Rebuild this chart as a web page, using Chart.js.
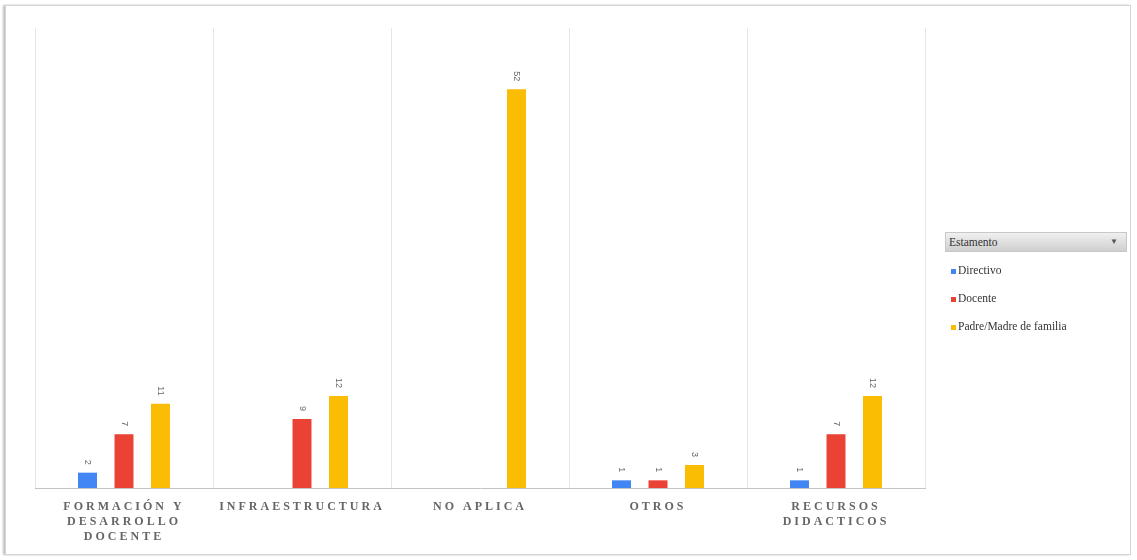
<!DOCTYPE html>
<html lang="es">
<head>
<meta charset="UTF-8">
<title>Estamento</title>
<script src="https://cdn.jsdelivr.net/npm/chart.js@4.4.1/dist/chart.umd.min.js"></script>
<style>
    html, body { margin: 0; padding: 0; background: #fff; }
    .frame {
        position: absolute;
        left: 5px; top: 5px;
        width: 1124px; height: 548px;
        border: 1px solid #d4d4d4;
        box-shadow: -2px 0 2px rgba(0,0,0,0.25);
    }
    #wrap { position: absolute; left: 0; top: 0; width: 1137px; height: 560px; }
    .legend {
        position: absolute;
        left: 945px; top: 232px;
        width: 182px;
        font-family: "Liberation Serif", serif;
        font-size: 11.5px;
        color: #333;
    }
    .legend .head {
        height: 18px;
        line-height: 18px;
        padding-left: 3px;
        background: linear-gradient(#f0f0f0, #cfcfcf);
        border: 1px solid #c8c8c8;
        position: relative;
    }
    .legend .head span { position: absolute; right: 8px; top: 0; font-size: 8px; color: #555; }
    .legend .item { margin: 8px 0 0 6px; height: 20px; line-height: 20px; }
    .legend .sw { display: inline-block; width: 5px; height: 5px; margin-right: 2px; vertical-align: middle; }
</style>
</head>
<body>
<div class="frame"></div>
<div id="wrap"><canvas id="c" width="1137" height="560"></canvas></div>
<div class="legend" id="legend">
    <div class="head">Estamento<span>▼</span></div>
</div>
<script>
const categories = [
    ['FORMACIÓN Y', 'DESARROLLO', 'DOCENTE'],
    'INFRAESTRUCTURA',
    'NO APLICA',
    'OTROS',
    ['RECURSOS', 'DIDACTICOS']
];
const seriesNames = ['Directivo', 'Docente', 'Padre/Madre de familia'];
const directivo = [2, null, null, 1, 1];
const docente = [7, 9, null, 1, 7];
const padreMadre = [11, 12, 52, 3, 12];
const colors = ['#4285f4', '#ea4335', '#fbbc04'];

const legend = document.getElementById('legend');
seriesNames.forEach((n, i) => {
    const d = document.createElement('div');
    d.className = 'item';
    d.innerHTML = '<span class="sw" style="background:' + colors[i] + '"></span>' + n;
    legend.appendChild(d);
});

// rotated value labels above each bar
const valueLabels = {
    id: 'valueLabels',
    afterDatasetsDraw(chart) {
        const ctx = chart.ctx;
        chart.data.datasets.forEach((ds, i) => {
            const meta = chart.getDatasetMeta(i);
            meta.data.forEach((bar, j) => {
                const v = ds.data[j];
                if (v === null) return;
                ctx.save();
                ctx.letterSpacing = '0px';
                ctx.translate(bar.x, bar.y - 8);
                ctx.rotate(Math.PI / 2);
                ctx.font = '9px "Liberation Sans", sans-serif';
                ctx.fillStyle = '#666';
                ctx.textAlign = 'right';
                ctx.textBaseline = 'middle';
                ctx.fillText(String(v), 0, 0);
                ctx.restore();
            });
        });
    }
};

const spacing = {
    id: 'spacing',
    beforeDraw(chart) { chart.ctx.letterSpacing = '3px'; },
    afterDraw(chart) { chart.ctx.letterSpacing = '0px'; }
};

new Chart(document.getElementById('c'), {
    type: 'bar',
    data: {
        labels: categories,
        datasets: [
            { label: seriesNames[0], data: directivo, backgroundColor: colors[0] },
            { label: seriesNames[1], data: docente, backgroundColor: colors[1] },
            { label: seriesNames[2], data: padreMadre, backgroundColor: colors[2] }
        ]
    },
    options: {
        responsive: false,
        animation: false,
        categoryPercentage: 0.615,
        barPercentage: 0.52,
        layout: { padding: { left: 35, right: 212, top: 28, bottom: 5 } },
        plugins: { legend: { display: false }, tooltip: { enabled: false } },
        scales: {
            x: {
                grid: { color: '#e6e6e6', drawTicks: false },
                border: { color: '#c4c4c4' },
                ticks: {
                    autoSkip: false,
                    maxRotation: 0,
                    padding: 11,
                    color: '#666',
                    font: { family: '"Liberation Serif", serif', size: 12, weight: 'bold', lineHeight: 1.25 }
                }
            },
            y: { display: false, min: 0, max: 60 }
        }
    },
    plugins: [valueLabels, spacing]
});
</script>
</body>
</html>
